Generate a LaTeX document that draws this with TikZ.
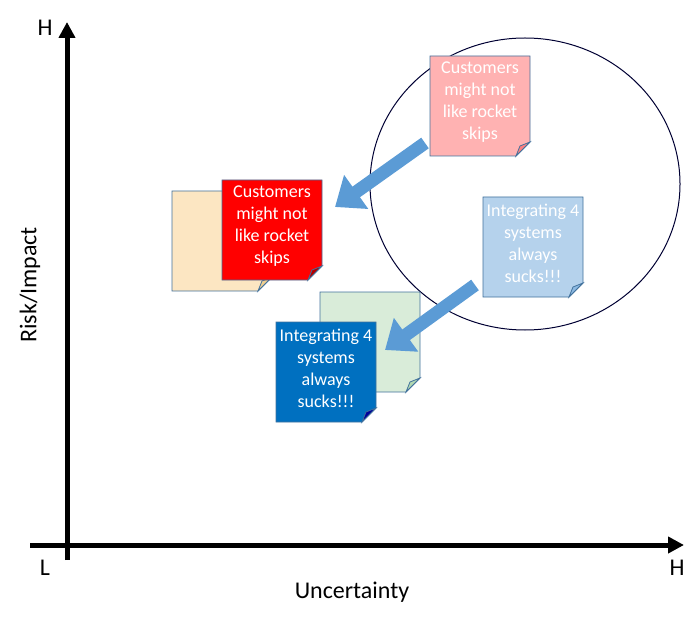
\documentclass[tikz,border=0pt]{standalone}
\usepackage{fontspec}
\setmainfont{Carlito}
\usetikzlibrary{arrows.meta,shapes.geometric}
\definecolor{bd}{HTML}{41719C}
\definecolor{arr}{HTML}{5B9BD5}
\definecolor{beigec}{HTML}{FCE6C2}
\definecolor{beigef}{HTML}{F0CF90}
\definecolor{dblue}{HTML}{0070C0}
\newcommand\stickynote[6]{% name, cx, cy, fill, fold fill, text
  \fill[#4,draw=bd,line width=0.8pt] (#2-50,#3-50) -- (#2+50,#3-50) -- (#2+50,#3+36) -- (#2+36,#3+50) -- (#2-50,#3+50) -- cycle;
  \fill[#5,draw=bd,line width=0.8pt] (#2+50,#3+36) -- (#2+36,#3+50) -- (#2+40,#3+40) -- cycle;
  \node[notetext] (#1) at (#2,#3-4) {#6};}
\begin{document}
\begin{tikzpicture}[x=1pt,y=-1pt,
  notetext/.style={text=white,font=\fontsize{18}{22}\selectfont,align=center},
  lab/.style={font=\fontsize{24}{28}\selectfont},
  axis/.style={line width=5pt,-{Triangle[length=16pt,width=16pt]}},
  big/.style={arr,line width=13pt,-{Triangle[length=26pt,width=40pt]}}]
\useasboundingbox (0,0) rectangle (700,617);
\coordinate (o1) at (67,560); \coordinate (ytop) at (67,22);
\coordinate (o2) at (30,545); \coordinate (xend) at (684,545);
\draw[axis] (o1) -- (ytop);
\draw[axis] (o2) -- (xend);
\node[lab] (hy) at (45,28) {H};
\node[lab] (l) at (45,568) {L};
\node[lab] (hx) at (677,568) {H};
\node[lab,rotate=90] (yl) at (30,285) {Risk/Impact};
\node[lab] (xl) at (352,592) {Uncertainty};
\node[draw=black!80!blue,line width=1pt,ellipse,minimum width=310pt,minimum height=292pt] (ell) at (525,184) {};
\stickynote{pink}{480}{106}{red!30}{red!50}{Customers\\might not\\like rocket\\skips}
\stickynote{lb}{533}{247}{arr!45}{arr!70}{Integrating 4\\systems\\always\\sucks!!!}
\stickynote{beige}{222}{241}{beigec}{beigef}{}
\stickynote{green}{370}{342}{green!50!black!15}{green!50!black!30}{}
\stickynote{red}{272}{230}{red}{red!70!black}{Customers\\might not\\like rocket\\skips}
\stickynote{db}{326}{372}{dblue}{blue!60!black}{Integrating 4\\systems\\always\\sucks!!!}
\coordinate (a1s) at (425,143); \coordinate (a1e) at (335,207);
\coordinate (a2s) at (475,285); \coordinate (a2e) at (385,350);
\draw[big] (a1s) -- (a1e);
\draw[big] (a2s) -- (a2e);
\end{tikzpicture}
\end{document}
